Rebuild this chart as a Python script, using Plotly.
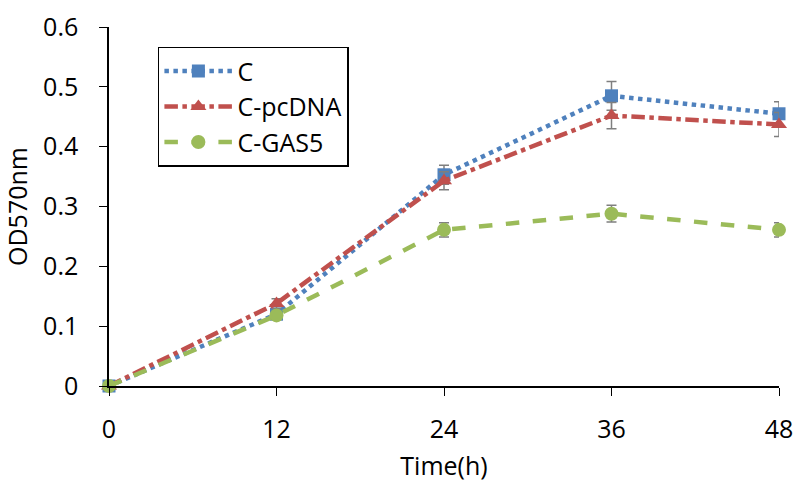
import plotly.graph_objects as go

time_h = [0, 12, 24, 36, 48]
c_vals = [0.0, 0.120, 0.353, 0.485, 0.455]
c_err = [0.0, 0.008, 0.016, 0.024, 0.020]
pc_vals = [0.0, 0.138, 0.343, 0.452, 0.437]
pc_err = [0.0, 0.008, 0.015, 0.022, 0.020]
gas_vals = [0.0, 0.118, 0.261, 0.288, 0.261]
gas_err = [0.0, 0.006, 0.012, 0.014, 0.012]

series = [
    ("C", c_vals, c_err, "#4F81BD", "dot", "square", 13),
    ("C-pcDNA", pc_vals, pc_err, "#C0504D", "dashdot", "triangle-up", 14),
    ("C-GAS5", gas_vals, gas_err, "#9BBB59", "dash", "circle", 14),
]

fig = go.Figure()
for name, vals, err, color, dash, sym, size in series:
    fig.add_trace(go.Scatter(
        x=time_h, y=vals, name=name, mode="lines+markers",
        line=dict(color=color, width=4.5, dash=dash),
        marker=dict(symbol=sym, size=size, color=color),
        error_y=dict(type="data", array=err, visible=True, color="#7F7F7F",
                     thickness=1.5, width=5),
        cliponaxis=False,
    ))

font_family = "Open Sans, Liberation Sans, Arial"
fs = 25
fig.update_layout(
    width=795, height=482,
    margin=dict(l=109, r=16, t=27, b=96),
    paper_bgcolor="white", plot_bgcolor="white",
    font=dict(family=font_family, size=fs, color="black"),
    showlegend=True,
    legend=dict(x=0.073, y=0.945, xanchor="left", yanchor="top",
                bordercolor="black", borderwidth=1.5, bgcolor="white",
                font=dict(size=fs), tracegroupgap=0, itemwidth=68),
    xaxis=dict(range=[0, 48], tickvals=time_h, ticktext=[str(t) for t in time_h],
               showgrid=False, zeroline=False, showline=True, linecolor="black",
               linewidth=1.5, ticks="outside", ticklen=8, tickcolor="black",
               ticklabelstandoff=12,
               title=dict(text="Time(h)", font=dict(size=fs), standoff=20),
               tickfont=dict(size=fs), automargin=False),
    yaxis=dict(range=[0, 0.6], tickvals=[0, 0.1, 0.2, 0.3, 0.4, 0.5, 0.6],
               ticktext=["0", "0.1", "0.2", "0.3", "0.4", "0.5", "0.6"],
               showgrid=False, zeroline=False, showline=True, linecolor="black",
               linewidth=1.5, ticks="outside", ticklen=8, tickcolor="black",
               ticklabelstandoff=16,
               title=dict(text="OD570nm", font=dict(size=fs), standoff=14),
               tickfont=dict(size=fs), automargin=False),
)

fig.write_html("out.html", config={"displayModeBar": False},
               post_script="document.body.style.margin='0';document.body.style.overflow='hidden';")
